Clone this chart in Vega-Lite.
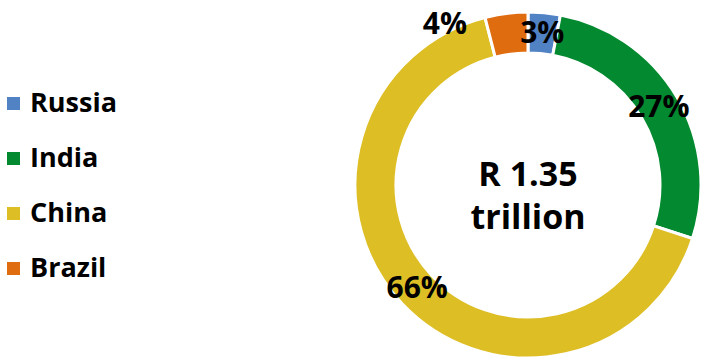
{
  "$schema": "https://vega.github.io/schema/vega-lite/v6.json",
  "width": 346,
  "height": 346,
  "autosize": {"type": "none"},
  "padding": {"left": 355, "top": 12, "right": 3, "bottom": 3},
  "background": "#ffffff",
  "config": {"view": {"stroke": null}},
  "datasets": {
    "shares": [
      {"country": "Russia", "share": 0.03},
      {"country": "India", "share": 0.27},
      {"country": "China", "share": 0.66},
      {"country": "Brazil", "share": 0.04}
    ],
    "center": [{"line1": "R 1.35", "line2": "trillion"}]
  },
  "layer": [
    {
      "data": {"name": "shares"},
      "transform": [{"window": [{"op": "row_number", "as": "idx"}]}],
      "mark": {"type": "arc", "outerRadius": 173, "innerRadius": 132, "stroke": "#ffffff", "strokeWidth": 3},
      "encoding": {
        "theta": {"field": "share", "type": "quantitative", "stack": true},
        "order": {"field": "idx", "type": "quantitative"},
        "color": {
          "field": "country",
          "type": "nominal",
          "sort": ["Russia", "India", "China", "Brazil"],
          "scale": {"domain": ["Russia", "India", "China", "Brazil"], "range": ["#5082C4", "#03892F", "#DDBE25", "#E06C10"]},
          "legend": {
            "title": null,
            "orient": "none",
            "legendX": -355,
            "legendY": 78,
            "symbolType": "square",
            "symbolSize": 169,
            "symbolStrokeWidth": 0,
            "labelFont": "Open Sans",
            "labelFontWeight": "bold",
            "labelFontSize": 27,
            "labelColor": "#000000",
            "labelOffset": 3,
            "rowPadding": 27
          }
        }
      }
    },
    {
      "data": {"name": "shares"},
      "transform": [{"window": [{"op": "row_number", "as": "idx"}]}],
      "mark": {"type": "text", "radius": 152, "font": "Open Sans", "fontWeight": "bold", "fontSize": 30, "color": "#000000", "align": "center", "baseline": "middle"},
      "encoding": {
        "theta": {"field": "share", "type": "quantitative", "stack": true},
        "order": {"field": "idx", "type": "quantitative"},
        "text": {"condition": {"test": "datum.country === 'Brazil'", "value": ""}, "field": "share", "type": "quantitative", "format": ".0%"}
      }
    },
    {
      "data": {"name": "shares"},
      "transform": [{"window": [{"op": "row_number", "as": "idx"}]}],
      "mark": {"type": "text", "radius": 152, "dx": -64, "dy": -9, "font": "Open Sans", "fontWeight": "bold", "fontSize": 30, "color": "#000000", "align": "center", "baseline": "middle"},
      "encoding": {
        "theta": {"field": "share", "type": "quantitative", "stack": true},
        "order": {"field": "idx", "type": "quantitative"},
        "text": {"condition": {"test": "datum.country === 'Brazil'", "field": "share", "type": "quantitative", "format": ".0%"}, "value": ""}
      }
    },
    {
      "data": {"name": "center"},
      "mark": {"type": "text", "font": "Open Sans", "fontWeight": "bold", "fontSize": 34, "color": "#000000", "align": "center", "baseline": "middle", "lineHeight": 43, "dy": -9},
      "encoding": {
        "text": {"value": ["R 1.35", "trillion"]}
      }
    }
  ]
}
